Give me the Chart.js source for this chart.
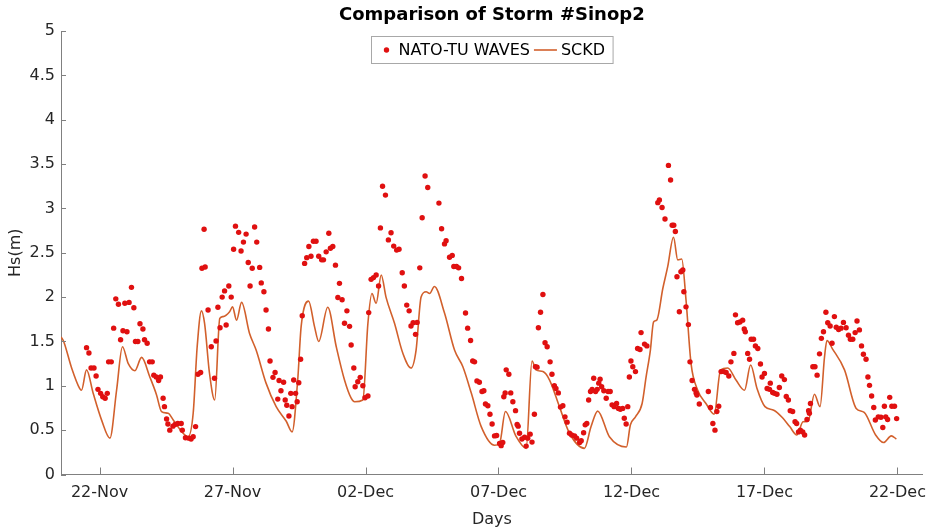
<!DOCTYPE html>
<html>
<head>
<meta charset="utf-8">
<script src="https://cdn.jsdelivr.net/npm/chart.js@4.4.1/dist/chart.umd.min.js"></script>
<style>
  body { margin: 0; background: #fff; }
  #myChart { display: block; }
</style>
</head>
<body>
<canvas id="myChart" width="928" height="529"></canvas>
<script>
// days counted from 22-Nov 00:00
var tickDays = [0, 5, 10, 15, 20, 25, 30];
var tickLabels = ["22-Nov", "27-Nov", "02-Dec", "07-Dec", "12-Dec", "17-Dec", "22-Dec"];

// NATO-TU WAVES (measured Hs, dots)
var waveDays = [-0.49, -0.40, -0.32, -0.21, -0.13, -0.06, 0.04, 0.12, 0.21, 0.29, 0.34, 0.44, 0.53, 0.61, 0.71, 0.79, 0.88, 0.95, 1.03, 1.11,
  1.20, 1.29, 1.35, 1.44, 1.52, 1.63, 1.69, 1.79, 1.88, 1.98, 2.04, 2.13, 2.22, 2.29, 2.39, 2.44, 2.52, 2.57, 2.64, 2.76,
  2.84, 2.94, 3.07, 3.11, 3.23, 3.36, 3.44, 3.52, 3.61, 3.70, 3.80, 3.85, 3.93, 3.97, 4.08, 4.20, 4.32, 4.38, 4.45, 4.53,
  4.61, 4.70, 4.76, 4.86, 4.95, 5.04, 5.11, 5.23, 5.32, 5.41, 5.51, 5.59, 5.66, 5.74, 5.83, 5.91, 6.02, 6.08, 6.18, 6.26,
  6.35, 6.41, 6.52, 6.60, 6.70, 6.75, 6.82, 6.92, 6.98, 7.04, 7.12, 7.19, 7.24, 7.30, 7.37, 7.43, 7.49, 7.56, 7.62, 7.71,
  7.79, 7.87, 7.95, 8.04, 8.14, 8.24, 8.35, 8.42, 8.52, 8.62, 8.68, 8.77, 8.87, 8.96, 9.02, 9.12, 9.21, 9.30, 9.40, 9.46,
  9.56, 9.61, 9.71, 9.80, 9.90, 9.98, 10.09, 10.12, 10.21, 10.30, 10.40, 10.49, 10.56, 10.64, 10.75, 10.86, 10.96, 11.06, 11.17, 11.26,
  11.38, 11.46, 11.55, 11.64, 11.71, 11.79, 11.88, 11.94, 12.04, 12.13, 12.24, 12.34, 12.76, 12.86, 12.97, 13.03, 13.16, 13.26, 13.32, 13.42,
  13.50, 13.61, 13.76, 13.84, 13.95, 14.03, 14.10, 14.19, 14.28, 14.38, 14.45, 14.51, 14.60, 14.68, 14.76, 14.85, 14.93, 15.04, 15.10, 15.16,
  15.20, 15.25, 15.29, 15.39, 15.46, 15.54, 15.64, 15.70, 15.74, 15.79, 15.88, 15.98, 16.04, 16.10, 16.19, 16.26, 16.35, 16.39, 16.45, 16.50,
  16.58, 16.67, 16.75, 16.83, 16.94, 17.01, 17.10, 17.16, 17.25, 17.33, 17.42, 17.50, 17.58, 17.67, 17.75, 17.86, 17.94, 18.05, 18.11, 18.20,
  18.26, 18.32, 18.39, 18.46, 18.52, 18.58, 18.65, 18.71, 18.77, 18.82, 18.88, 18.96, 19.05, 19.12, 19.20, 19.27, 19.35, 19.44, 19.51, 19.58,
  19.67, 19.73, 19.80, 19.86, 19.92, 19.98, 20.05, 20.15, 20.23, 20.32, 20.36, 20.49, 20.58, 20.99, 21.05, 21.15, 21.26, 21.39, 21.47, 21.53,
  21.59, 21.65, 21.71, 21.80, 21.86, 21.93, 21.97, 22.05, 22.14, 22.20, 22.28, 22.37, 22.43, 22.46, 22.55, 22.89, 22.97, 23.06, 23.14, 23.21,
  23.28, 23.37, 23.47, 23.56, 23.66, 23.74, 23.85, 23.91, 23.99, 24.08, 24.18, 24.24, 24.28, 24.37, 24.44, 24.50, 24.59, 24.66, 24.75, 24.85,
  24.91, 25.00, 25.10, 25.19, 25.22, 25.31, 25.38, 25.47, 25.56, 25.65, 25.75, 25.82, 25.90, 25.97, 26.06, 26.15, 26.21, 26.28, 26.35, 26.44,
  26.51, 26.60, 26.66, 26.69, 26.73, 26.82, 26.90, 26.98, 27.07, 27.14, 27.22, 27.31, 27.38, 27.47, 27.54, 27.63, 27.70, 27.79, 27.88, 27.97,
  28.07, 28.16, 28.23, 28.32, 28.41, 28.48, 28.57, 28.65, 28.72, 28.82, 28.89, 28.95, 29.03, 29.11, 29.17, 29.28, 29.38, 29.45, 29.51, 29.56,
  29.63, 29.71, 29.79, 29.89, 29.97];
var waveHs = [1.43, 1.37, 1.20, 1.20, 1.11, 0.96, 0.915, 0.877, 0.86, 0.915, 1.27, 1.27, 1.65, 1.98, 1.92, 1.52, 1.62, 1.93, 1.61, 1.94,
  2.11, 1.88, 1.50, 1.50, 1.70, 1.64, 1.52, 1.48, 1.27, 1.27, 1.12, 1.10, 1.06, 1.10, 0.86, 0.765, 0.625, 0.57, 0.50, 0.545,
  0.565, 0.575, 0.575, 0.50, 0.415, 0.41, 0.40, 0.425, 0.54, 1.13, 1.15, 2.325, 2.765, 2.34, 1.855, 1.44, 1.085, 1.505, 1.885, 1.655,
  2.00, 2.07, 1.685, 2.125, 2.00, 2.54, 2.80, 2.73, 2.52, 2.62, 2.71, 2.39, 2.125, 2.325, 2.79, 2.62, 2.335, 2.16, 2.06, 1.855,
  1.64, 1.28, 1.095, 1.15, 0.85, 1.06, 0.945, 1.04, 0.84, 0.78, 0.66, 0.915, 0.765, 1.065, 0.915, 0.82, 1.035, 1.30, 1.79, 2.38,
  2.445, 2.57, 2.46, 2.63, 2.63, 2.46, 2.42, 2.42, 2.51, 2.72, 2.55, 2.57, 2.36, 1.995, 2.155, 1.97, 1.705, 1.845, 1.67, 1.46,
  1.20, 0.99, 1.045, 1.095, 1.00, 0.866, 0.885, 1.825, 2.20, 2.22, 2.25, 2.125, 2.78, 3.25, 3.15, 2.645, 2.725, 2.575, 2.53, 2.54,
  2.275, 2.125, 1.91, 1.845, 1.675, 1.71, 1.58, 1.715, 2.33, 2.895, 3.365, 3.235, 3.06, 2.77, 2.60, 2.635, 2.45, 2.47, 2.345, 2.345,
  2.33, 2.21, 1.82, 1.65, 1.51, 1.28, 1.27, 1.055, 1.04, 0.935, 0.945, 0.795, 0.775, 0.68, 0.57, 0.435, 0.44, 0.35, 0.325, 0.36,
  0.877, 0.92, 1.18, 1.13, 0.92, 0.82, 0.72, 0.565, 0.545, 0.465, 0.40, 0.42, 0.32, 0.41, 0.455, 0.365, 0.68, 1.215, 1.21, 1.655,
  1.83, 2.03, 1.485, 1.44, 1.27, 1.13, 1.00, 0.97, 0.92, 0.76, 0.775, 0.65, 0.59, 0.465, 0.445, 0.435, 0.41, 0.36, 0.38, 0.47,
  0.56, 0.575, 0.84, 0.935, 0.96, 1.085, 0.935, 0.96, 1.03, 1.075, 0.99, 0.945, 0.86, 0.935, 0.935, 0.785, 0.765, 0.80, 0.745, 0.735,
  0.745, 0.635, 0.57, 0.765, 1.10, 1.28, 1.215, 1.16, 1.42, 1.41, 1.60, 1.47, 1.45, 3.065, 3.095, 3.01, 2.88, 3.485, 3.32, 2.81,
  2.81, 2.74, 2.23, 1.835, 2.285, 2.305, 2.06, 1.89, 1.69, 1.27, 1.06, 0.96, 0.92, 0.895, 0.795, 0.935, 0.755, 0.575, 0.50, 0.71,
  0.77, 1.16, 1.16, 1.15, 1.11, 1.27, 1.365, 1.80, 1.71, 1.72, 1.74, 1.64, 1.61, 1.365, 1.30, 1.525, 1.525, 1.45, 1.42, 1.245,
  1.10, 1.14, 0.97, 0.96, 1.03, 0.925, 0.915, 0.905, 0.98, 1.11, 1.07, 0.88, 0.84, 0.72, 0.71, 0.595, 0.575, 0.48, 0.50, 0.48,
  0.445, 0.62, 0.72, 0.69, 0.80, 1.215, 1.215, 1.12, 1.36, 1.535, 1.61, 1.83, 1.71, 1.675, 1.48, 1.78, 1.66, 1.635, 1.65, 1.715,
  1.655, 1.57, 1.525, 1.525, 1.60, 1.73, 1.63, 1.45, 1.355, 1.30, 1.10, 1.005, 0.885, 0.755, 0.615, 0.65, 0.645, 0.53, 0.77, 0.65,
  0.62, 0.87, 0.77, 0.77, 0.63];

// SCKD model (line)
var sckdDays = [-1.45, -1.35, -1.05, -0.75, -0.68, -0.49, -0.24, 0.08, 0.39, 0.64, 0.86, 1.08, 1.33, 1.58, 1.89, 2.14, 2.33, 2.58, 2.77, 3.14,
  3.33, 3.52, 3.67, 3.83, 3.95, 4.13, 4.33, 4.52, 4.64, 4.89, 5.00, 5.15, 5.34, 5.64, 5.89, 6.26, 6.64, 7.02, 7.24, 7.45,
  7.58, 7.86, 8.08, 8.24, 8.58, 8.90, 9.21, 9.46, 9.59, 9.90, 10.09, 10.24, 10.40, 10.59, 10.77, 11.09, 11.40, 11.71, 11.90, 12.09,
  12.28, 12.41, 12.59, 12.97, 13.35, 13.66, 13.98, 14.35, 14.85, 15.04, 15.26, 15.66, 16.04, 16.26, 16.41, 16.67, 16.92, 17.29, 17.67, 18.23,
  18.48, 18.73, 19.17, 19.81, 19.96, 20.15, 20.40, 20.55, 20.71, 20.83, 20.95, 21.18, 21.36, 21.58, 21.74, 21.89, 22.05, 22.24, 22.49, 22.80,
  23.11, 23.35, 23.62, 23.93, 24.25, 24.48, 24.72, 25.02, 25.35, 25.68, 25.95, 26.22, 26.45, 26.64, 26.88, 27.09, 27.26, 27.35, 27.55, 28.01,
  28.45, 28.75, 29.18, 29.48, 29.77, 29.96];
var sckdHs = [1.55, 1.50, 1.20, 0.97, 0.95, 1.18, 0.915, 0.61, 0.41, 0.95, 1.44, 1.25, 1.17, 1.32, 1.10, 0.90, 0.71, 0.69, 0.615, 0.465,
  0.425, 0.69, 1.44, 1.845, 1.70, 1.15, 0.84, 1.76, 1.78, 1.835, 1.89, 1.74, 1.94, 1.59, 1.40, 1.03, 0.765, 0.60, 0.48, 1.065,
  1.67, 1.955, 1.67, 1.50, 1.885, 1.44, 1.065, 0.86, 0.82, 0.84, 1.705, 2.04, 1.93, 2.25, 2.00, 1.705, 1.37, 1.20, 1.40, 2.00,
  2.06, 2.04, 2.12, 1.82, 1.40, 1.215, 0.915, 0.54, 0.33, 0.35, 0.71, 0.43, 0.295, 1.28, 1.18, 1.16, 1.065, 0.765, 0.465, 0.295,
  0.54, 0.715, 0.425, 0.31, 0.56, 0.65, 0.80, 1.10, 1.40, 1.72, 1.74, 2.10, 2.34, 2.675, 2.42, 2.43, 1.97, 1.25, 0.95, 0.80,
  0.68, 1.18, 1.20, 1.065, 0.95, 1.235, 0.97, 0.765, 0.725, 0.64, 0.54, 0.445, 0.595, 0.60, 0.905, 0.765, 1.33, 1.51, 1.42, 1.18,
  0.745, 0.70, 0.445, 0.36, 0.435, 0.40];

var fontFamily = '"DejaVu Sans", "Liberation Sans", sans-serif';
var axisColor = "#808080";
var textColor = "#262626";

function toPoints(xs, ys) {
  return xs.map(function (x, i) { return { x: x, y: ys[i] }; });
}

// MATLAB style ticks that point into the plot
var innerTicks = {
  id: "innerTicks",
  afterDraw: function (chart) {
    var ctx = chart.ctx;
    var x = chart.scales.x, y = chart.scales.y;
    ctx.save();
    ctx.strokeStyle = axisColor;
    ctx.lineWidth = 1;
    ctx.beginPath();
    x.ticks.forEach(function (t) {
      var px = Math.round(x.getPixelForValue(t.value)) + 0.5;
      ctx.moveTo(px, y.bottom);
      ctx.lineTo(px, y.bottom - 7);
    });
    y.ticks.forEach(function (t) {
      var py = Math.round(y.getPixelForValue(t.value)) + 0.5;
      ctx.moveTo(x.left, py);
      ctx.lineTo(x.left + 5, py);
    });
    ctx.stroke();
    ctx.restore();
  }
};

// legend box sitting inside the plot, top centre
var insideLegend = {
  id: "insideLegend",
  afterDraw: function (chart) {
    var ctx = chart.ctx;
    var area = chart.chartArea;
    var ds = chart.data.datasets;
    ctx.save();
    ctx.font = "16px " + fontFamily;
    var w0 = ctx.measureText(ds[0].label).width;
    var w1 = ctx.measureText(ds[1].label).width;
    var boxW = w0 + w1 + 66;
    var boxH = 27;
    var left = Math.round((area.left + area.right) / 2 - boxW / 2) + 0.5;
    var top = Math.round(area.top + 5) + 0.5;
    var mid = top + boxH / 2;
    ctx.fillStyle = "#fff";
    ctx.fillRect(left, top, boxW, boxH);
    ctx.strokeStyle = "#a8a8a8";
    ctx.lineWidth = 1;
    ctx.strokeRect(left, top, boxW, boxH);

    ctx.fillStyle = ds[0].backgroundColor;
    ctx.beginPath();
    ctx.arc(left + 15, mid, 2.7, 0, Math.PI * 2);
    ctx.fill();

    ctx.fillStyle = "#000";
    ctx.textBaseline = "middle";
    ctx.textAlign = "left";
    ctx.fillText(ds[0].label, left + 27, mid + 1);

    var lx = left + 27 + w0 + 4;
    ctx.strokeStyle = ds[1].borderColor;
    ctx.lineWidth = 1.6;
    ctx.beginPath();
    ctx.moveTo(lx, mid);
    ctx.lineTo(lx + 23, mid);
    ctx.stroke();
    ctx.fillText(ds[1].label, lx + 27, mid + 1);
    ctx.restore();
  }
};

var ctx = document.getElementById("myChart").getContext("2d");
var myChart = new Chart(ctx, {
  type: "scatter",
  data: {
    datasets: [{
      label: "NATO-TU WAVES",
      data: toPoints(waveDays, waveHs),
      backgroundColor: "#e01010",
      pointRadius: 2.7,
      pointBorderWidth: 0,
      borderWidth: 0
    }, {
      type: "line",
      label: "SCKD",
      data: toPoints(sckdDays, sckdHs),
      borderColor: "#d2602c",
      borderWidth: 1.6,
      pointRadius: 0,
      fill: false,
      cubicInterpolationMode: "monotone"
    }]
  },
  options: {
    responsive: false,
    animation: false,
    layout: { padding: { left: 0, right: 5.3, top: 0, bottom: 0 } },
    plugins: {
      legend: { display: false },
      tooltip: { enabled: false },
      title: {
        display: true,
        fullSize: false,
        text: "Comparison of Storm #Sinop2",
        color: "#000",
        font: { family: fontFamily, size: 18, weight: "bold", lineHeight: 1.2 },
        padding: { top: 5, bottom: 4.4 }
      }
    },
    scales: {
      x: {
        type: "linear",
        min: -1.45,
        max: 30.95,
        grid: { display: false, drawTicks: false },
        border: { display: true, color: axisColor, width: 1 },
        afterBuildTicks: function (scale) {
          scale.ticks = tickDays.map(function (d) { return { value: d }; });
        },
        afterFit: function (scale) {
          scale.height = 54.5;
          scale.paddingRight = 0;
          scale.paddingLeft = 0;
        },
        ticks: {
          color: textColor,
          font: { family: fontFamily, size: 16 },
          padding: 9,
          maxRotation: 0,
          autoSkip: false,
          callback: function (value) {
            var i = tickDays.indexOf(value);
            return i >= 0 ? tickLabels[i] : "";
          }
        },
        title: {
          display: true,
          text: "Days",
          color: textColor,
          font: { family: fontFamily, size: 16 },
          padding: { top: 0, bottom: 0 }
        }
      },
      y: {
        min: 0,
        max: 5,
        grid: { display: false, drawTicks: false },
        border: { display: true, color: axisColor, width: 1 },
        afterFit: function (scale) { scale.width = 61; },
        ticks: {
          stepSize: 0.5,
          color: textColor,
          font: { family: fontFamily, size: 16 },
          padding: 6,
          callback: function (value) { return String(Math.round(value * 10) / 10); }
        },
        title: {
          display: true,
          text: "Hs(m)",
          color: textColor,
          font: { family: fontFamily, size: 16 },
          padding: { top: 6, bottom: 0 }
        }
      }
    }
  },
  plugins: [innerTicks, insideLegend]
});
</script>
</body>
</html>
